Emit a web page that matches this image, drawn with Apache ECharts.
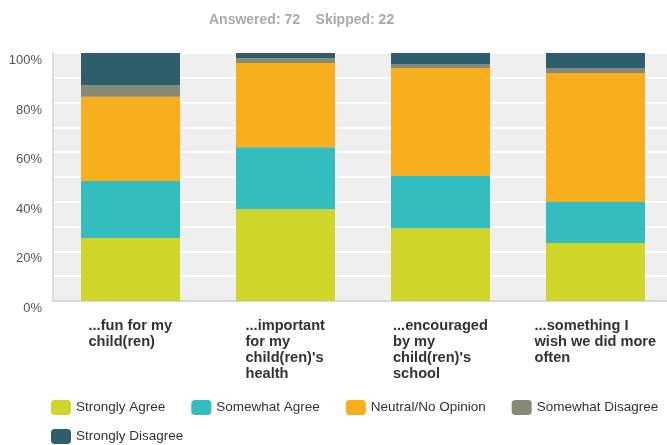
<!DOCTYPE html>
<html>
<head>
<meta charset="utf-8">
<script src="https://cdn.jsdelivr.net/npm/echarts@6/dist/echarts.min.js"></script>
<style>html,body{margin:0;padding:0;background:#fff;}#c{width:667px;height:445px;}</style>
</head>
<body>
<div id="c"></div>
<script>
var categories = ["...fun for my\nchild(ren)", "...important\nfor my\nchild(ren)'s\nhealth", "...encouraged\nby my\nchild(ren)'s\nschool", "...something I\nwish we did more\noften"];
var seriesNames = ["Strongly Agree", "Somewhat Agree", "Neutral/No Opinion", "Somewhat Disagree", "Strongly Disagree"];
var stronglyAgree = [25.4, 37.0, 29.3, 23.4];
var somewhatAgree = [23.0, 25.0, 21.1, 16.5];
var neutral = [34.0, 34.0, 43.6, 52.0];
var somewhatDisagree = [4.6, 1.9, 1.4, 1.9];
var stronglyDisagree = [13.0, 2.1, 4.6, 6.2];
var titleText = "Answered: 72    Skipped: 22";

var colors = ["#cfd529", "#33bdbf", "#f7af1e", "#878977", "#2e5e6b"];
var values = [stronglyAgree, somewhatAgree, neutral, somewhatDisagree, stronglyDisagree];
var FF = "Arial, 'Liberation Sans', sans-serif";

var labelSize = 14.6;
var cv = document.createElement('canvas').getContext('2d');
cv.font = "bold " + labelSize + "px Arial, 'Liberation Sans', sans-serif";
var rich = {};
categories.forEach(function (c, i) {
  var w = 0;
  c.split('\n').forEach(function (l) { w = Math.max(w, cv.measureText(l).width); });
  rich['c' + i] = { width: Math.ceil(w), align: 'left', fontWeight: 'bold', fontSize: labelSize, lineHeight: 16, color: '#333', fontFamily: FF };
});

var chart = echarts.init(document.getElementById('c'));
chart.setOption({
  animation: false,
  title: {
    text: titleText, left: 209, top: 13, padding: 0,
    textStyle: { color: '#aaa', fontWeight: 'bold', fontSize: 14, fontFamily: FF }
  },
  legend: [{
    data: seriesNames.slice(0, 4), left: 51, top: 400, padding: 0, itemWidth: 20, itemHeight: 15, itemGap: 26, icon: 'roundRect',
    textStyle: { fontSize: 13.5, color: '#333', fontFamily: FF }
  }, {
    data: seriesNames.slice(4), left: 51, top: 429, padding: 0, itemWidth: 20, itemHeight: 15, itemGap: 26, icon: 'roundRect',
    textStyle: { fontSize: 13.5, color: '#333', fontFamily: FF }
  }],
  grid: { left: 53, width: 620, top: 53, height: 248, show: true, backgroundColor: '#efefef', borderWidth: 0, containLabel: false, outerBoundsMode: 'none' },
  xAxis: {
    type: 'category', data: categories,
    axisLine: { show: true, lineStyle: { color: '#d9d9d9', width: 2 } },
    axisTick: { show: false },
    axisLabel: {
      interval: 0, margin: 17, rich: rich,
      formatter: function (v, i) { return v.split('\n').map(function (l) { return '{c' + i + '|' + l + '}'; }).join('\n'); }
    }
  },
  yAxis: {
    type: 'value', min: 0, max: 100, interval: 10,
    axisLine: { show: true, lineStyle: { color: '#dcdcdc', width: 2 } },
    axisTick: { show: false },
    splitLine: { show: true, lineStyle: { color: '#ffffff', width: 2 } },
    axisLabel: {
      margin: 11, color: '#555', fontSize: 13, fontFamily: FF, verticalAlign: 'top', padding: [1, 0, 0, 0],
      formatter: function (v) { return v % 20 === 0 ? v + '%' : ''; }
    }
  },
  series: seriesNames.map(function (n, k) {
    return {
      name: n, type: 'bar', stack: 'all', barWidth: 99, data: values[k],
      itemStyle: { color: colors[k] }
    };
  })
});
</script>
</body>
</html>
